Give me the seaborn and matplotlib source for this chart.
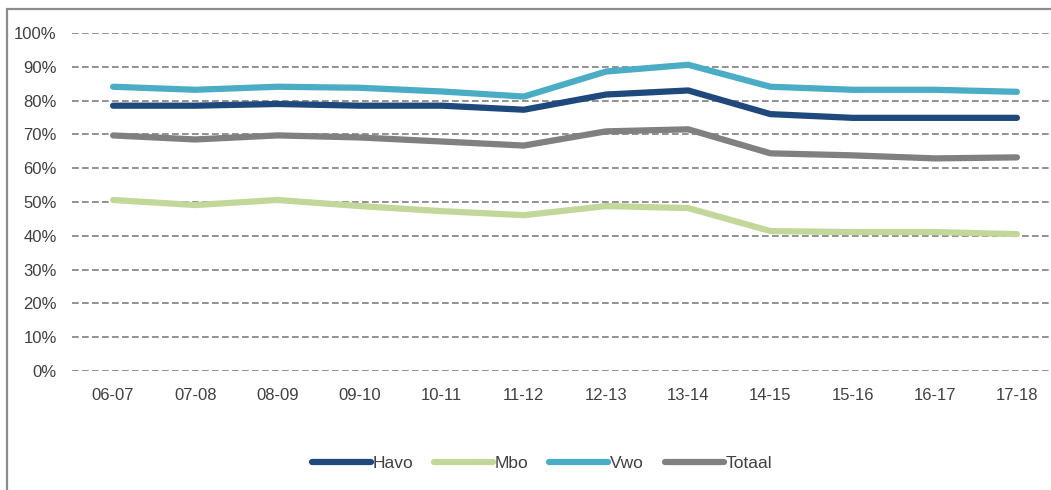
import pandas as pd
import seaborn as sns
import matplotlib.pyplot as plt
from matplotlib.patches import Rectangle
from matplotlib.ticker import PercentFormatter

# Schooljaren
jaren = ['06-07', '07-08', '08-09', '09-10', '10-11', '11-12',
         '12-13', '13-14', '14-15', '15-16', '16-17', '17-18']

# Percentages per vooropleiding
havo = [78.5, 78.5, 79.0, 78.5, 78.5, 77.3, 81.8, 83.0, 76.0, 74.9, 74.9, 74.9]
mbo = [50.6, 49.1, 50.6, 48.8, 47.3, 46.1, 48.8, 48.2, 41.4, 41.1, 41.1, 40.5]
vwo = [84.1, 83.2, 84.1, 83.8, 82.7, 81.2, 88.6, 90.6, 84.1, 83.2, 83.2, 82.6]
totaal = [69.7, 68.5, 69.7, 69.1, 67.9, 66.7, 70.9, 71.5, 64.4, 63.8, 62.9, 63.2]

reeksen = {'Havo': havo, 'Mbo': mbo, 'Vwo': vwo, 'Totaal': totaal}
kleuren = {'Havo': '#1f497d', 'Mbo': '#c4d79b', 'Vwo': '#4bacc6', 'Totaal': '#808080'}

df = pd.concat([pd.DataFrame({'jaar': jaren, 'waarde': v, 'groep': k})
                for k, v in reeksen.items()], ignore_index=True)

sns.set_style('white')
plt.rcParams['font.family'] = ['Liberation Sans', 'DejaVu Sans']

fig = plt.figure(figsize=(10.51, 4.90), dpi=100)
ax = fig.add_axes([72 / 1051, 1 - 371 / 490, 986 / 1051, 338 / 490])

# Rand om de grafiek
fig.patches.append(Rectangle((7 / 1051, -0.1), 1.1, 1.1 - 9 / 490,
                             transform=fig.transFigure, fill=False,
                             edgecolor='#8c8c8c', linewidth=1.6))

sns.lineplot(data=df, x='jaar', y='waarde', hue='groep', palette=kleuren,
             linewidth=4.5, sort=False, ax=ax, legend=False,
             solid_capstyle='round', zorder=3)

ax.set_ylim(0, 100)
ax.set_xlim(-0.5, 11.5)
ax.set_yticks(range(0, 101, 10))
ax.yaxis.set_major_formatter(PercentFormatter(decimals=0))
ax.grid(True, axis='y', color='#7f7f7f', linestyle=(0, (4, 2)), linewidth=1.2)
ax.grid(False, axis='x')
for s in ax.spines.values():
    s.set_visible(False)
ax.set_xlabel('')
ax.set_ylabel('')
ax.tick_params(axis='y', length=0, pad=11, labelsize=12, labelcolor='#404040')
ax.tick_params(axis='x', length=0, pad=12, labelsize=12, labelcolor='#404040')

# Legenda
handles = [plt.Line2D([], [], color=kleuren[k], linewidth=4.5, solid_capstyle='round')
           for k in reeksen]
fig.legend(handles, list(reeksen), loc='center', bbox_to_anchor=(542 / 1051, 1 - 463 / 490),
           ncol=4, frameon=False, fontsize=12.5, handlelength=3.4, handletextpad=0.1,
           columnspacing=1.2, labelcolor='#404040')

fig.savefig('out.png', dpi=100)
